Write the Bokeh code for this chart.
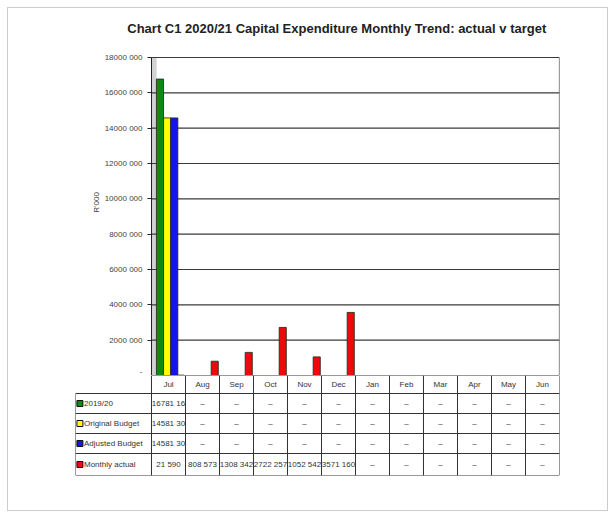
from bokeh.plotting import figure
from bokeh.models import Range1d, FixedTicker, ColumnDataSource
from bokeh.layouts import column
from bokeh.core.properties import value
from bokeh.embed import file_html
from bokeh.resources import INLINE

# ---------------- data ----------------
title_text = "Chart C1 2020/21  Capital Expenditure Monthly Trend: actual v target"
months = ["Jul", "Aug", "Sep", "Oct", "Nov", "Dec", "Jan", "Feb", "Mar", "Apr", "May", "Jun"]
series_names = ["2019/20", "Original Budget", "Adjusted Budget", "Monthly actual"]
prior_year = [16781160, None, None, None, None, None, None, None, None, None, None, None]
original_budget = [14581300, None, None, None, None, None, None, None, None, None, None, None]
adjusted_budget = [14581300, None, None, None, None, None, None, None, None, None, None, None]
monthly_actual = [21590, 808573, 1308342, 2722257, 1052542, 3571160, None, None, None, None, None, None]
cell_text_prior = ["16781 16"] + ["\u2013"] * 11
cell_text_orig = ["14581 30"] + ["\u2013"] * 11
cell_text_adj = ["14581 30"] + ["\u2013"] * 11
cell_text_actual = ["21 590", "808 573", "1308 342", "2722 257", "1052 542", "3571 160"] + ["\u2013"] * 6
y_ticks = [0, 2000000, 4000000, 6000000, 8000000, 10000000, 12000000, 14000000, 16000000, 18000000]
y_tick_labels = ["-", "2000 000", "4000 000", "6000 000", "8000 000", "10000 000",
                 "12000 000", "14000 000", "16000 000", "18000 000"]
y_label = "R'000"

colors = ["#118811", "#ffff00", "#1515e6", "#ee0a0a"]
offsets = [-0.25, -0.04, 0.17, 0.36]
FONT = "Liberation Sans"
N = len(months)

# layout constants (pixels)
FRAME_W = 484          # whole table width incl. legend column
LEGEND_PX = 76         # legend column width
COL_PX = (FRAME_W - LEGEND_PX) / N
LEGEND_W = LEGEND_PX / COL_PX      # legend column width in month units
TOP_H = 367            # height of the chart figure
PLOT_TOP_PX = 49       # distance from figure top to the top gridline
TITLE_PX = 20          # distance from figure top to title centre

y_top = y_ticks[-1]
px_per_unit = (TOP_H - PLOT_TOP_PX) / y_top
y_max = y_top + PLOT_TOP_PX / px_per_unit
title_y = y_top + (PLOT_TOP_PX - TITLE_PX) / px_per_unit

# ---------------- chart ----------------
p = figure(x_range=Range1d(-LEGEND_W, N), y_range=Range1d(0, y_max),
           width=599, height=TOP_H, output_backend="svg", toolbar_location=None,
           min_border_left=67, min_border_right=48, min_border_top=0, min_border_bottom=0)
p.background_fill_color = "white"
p.border_fill_color = "white"
p.outline_line_color = None
p.xaxis.visible = False
p.grid.grid_line_color = None

p.yaxis.fixed_location = 0
p.yaxis.bounds = (0, y_top)
p.yaxis.ticker = FixedTicker(ticks=y_ticks)
p.yaxis.major_label_overrides = {t: l for t, l in zip(y_ticks, y_tick_labels)}
p.yaxis.major_label_text_font = FONT
p.yaxis.major_label_text_font_size = "8px"
p.yaxis.major_label_text_color = "#444444"
p.yaxis.minor_tick_line_color = None
p.yaxis.major_tick_out = 4
p.yaxis.major_tick_in = 0
p.yaxis.axis_line_color = "#222222"
p.yaxis.major_tick_line_color = "#222222"

# title
p.text(x=[N / 2 - LEGEND_W / 2 + 0.62], y=[title_y], text=[title_text], text_align="center",
       text_baseline="middle", text_font=value(FONT), text_font_size="13px",
       text_font_style="bold", text_color="#222222")

# 3D-ish left wall strip
p.quad(left=[0], right=[0.15], bottom=[0], top=[y_top], fill_color="#d2d2d2",
       line_color=None)
# horizontal gridlines across the plot area only
p.segment(x0=[0] * len(y_ticks), x1=[N] * len(y_ticks), y0=y_ticks, y1=y_ticks,
          line_color="#3a3a3a", line_width=1.2)
# right edge of plot area
p.segment(x0=[N], x1=[N], y0=[0], y1=[y_top], line_color="#3a3a3a", line_width=1.2)

for vals, col, off in zip([prior_year, original_budget, adjusted_budget, monthly_actual], colors, offsets):
    xs = [i + 0.5 + off for i, v in enumerate(vals) if v is not None]
    ys = [v for v in vals if v is not None]
    src = ColumnDataSource(dict(x=xs, top=ys))
    p.vbar(x="x", top="top", width=0.21, source=src,
           fill_color=col, line_color="#222222", line_width=0.8)

p.text(x=[-1.62], y=[9800000], text=[y_label], angle=1.5708, text_align="center",
       text_baseline="middle", text_font=value(FONT), text_font_size="8px",
       text_color="#444444")

# ---------------- data table ----------------
t = figure(x_range=Range1d(-LEGEND_W, N), y_range=Range1d(100, 0),
           width=599, height=135, output_backend="svg", toolbar_location=None,
           min_border_left=67, min_border_right=48, min_border_top=0, min_border_bottom=35)
t.axis.visible = False
t.grid.grid_line_color = None
t.outline_line_color = None
t.background_fill_color = "white"
t.border_fill_color = "white"

row_edges = [0, 18, 38, 58, 78, 100]
hx0 = [0] + [-LEGEND_W] * 5
t.segment(x0=hx0, y0=row_edges, x1=[N] * 6, y1=row_edges, line_color="#333333", line_width=1)
vx = [-LEGEND_W] + list(range(N + 1))
vy0 = [18] + [0] * (N + 1)
t.segment(x0=vx, y0=vy0, x1=vx, y1=[100] * (N + 2), line_color="#333333", line_width=1)

centers = [i + 0.5 for i in range(N)]
t.text(x=centers, y=[9] * N, text=months, text_align="center", text_baseline="middle",
       text_font=value(FONT), text_font_size="8px", text_color="#333333")

rows_text = [cell_text_prior, cell_text_orig, cell_text_adj, cell_text_actual]
row_mid = [28, 48, 68, 89]
for r, (txts, ym) in enumerate(zip(rows_text, row_mid)):
    t.text(x=centers, y=[ym] * N, text=txts, text_align="center", text_baseline="middle",
           text_font=value(FONT), text_font_size="8px", text_color="#333333")
    t.rect(x=[-LEGEND_W + 0.13], y=[ym], width=6, height=6, width_units="screen",
           height_units="screen", fill_color=colors[r], line_color="#111111", line_width=1)
    t.text(x=[-LEGEND_W + 0.25], y=[ym], text=[series_names[r]], text_align="left",
           text_baseline="middle", text_font=value(FONT), text_font_size="8px",
           text_color="#333333")

layout = column(p, t, spacing=0, styles={"border": "1px solid #cccccc", "margin": "7px 0 0 7px"})
open("out.html", "w").write(file_html(layout, INLINE))
